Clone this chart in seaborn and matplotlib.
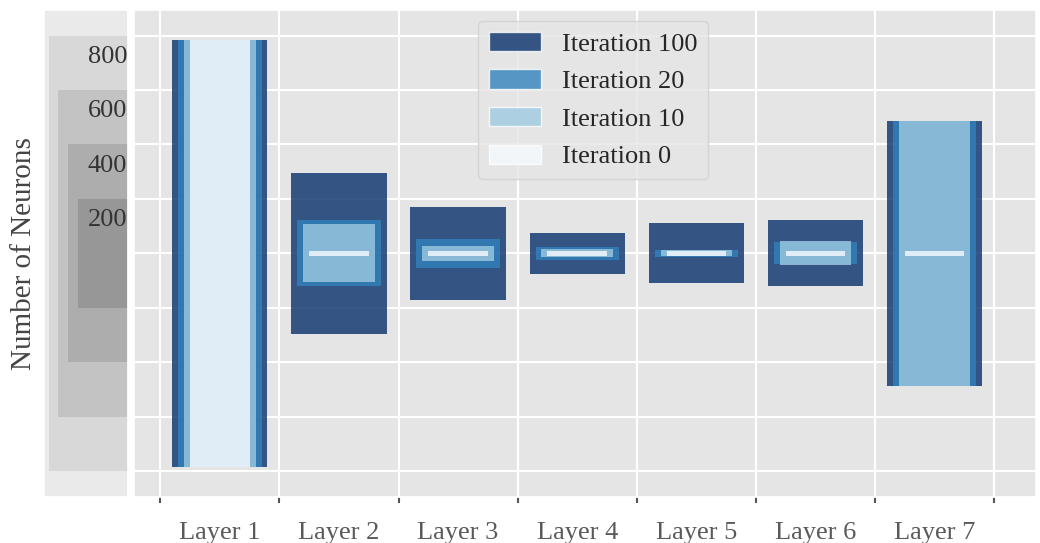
import numpy as np
import pandas as pd
import seaborn as sns
import matplotlib.pyplot as plt
from matplotlib.patches import Patch

# data
layers = ['Layer 1', 'Layer 2', 'Layer 3', 'Layer 4', 'Layer 5', 'Layer 6', 'Layer 7']
iterations = ['Iteration 100', 'Iteration 20', 'Iteration 10', 'Iteration 0']
neurons_it100 = [784, 295, 172, 75, 110, 121, 488]
neurons_it20 = [784, 121, 54, 25, 14, 40, 488]
neurons_it10 = [784, 106, 27, 15, 11, 44, 488]
neurons_it0 = [784, 10, 10, 10, 10, 10, 10]
scale_values = [800, 600, 400, 200]

colors = ['#08306b', '#3182bd', '#9ecae1', '#f7fbff']
widths = [0.8, 0.7, 0.6, 0.5]
scale_colors = ['#d8d8d8', '#c3c3c3', '#adadad', '#979797']
scale_left = [0.06, 0.167, 0.287, 0.406]

rows = []
for it, vals in zip(iterations, [neurons_it100, neurons_it20, neurons_it10, neurons_it0]):
    for lay, v in zip(layers, vals):
        rows.append({'layer': lay, 'iteration': it, 'neurons': v})
df = pd.DataFrame(rows)
df['half'] = df['neurons'] / 2

sns.set_theme(style="darkgrid", rc={'axes.facecolor': '#e5e5e5', 'grid.color': 'white',
                                    'grid.linewidth': 1.5})
plt.rcParams['font.family'] = ['Liberation Serif', 'DejaVu Serif']

fig = plt.figure(figsize=(10.4, 5.43), dpi=100)
ax = fig.add_axes([0.1291, 0.0853, 0.8670, 0.8963])
ax_l = fig.add_axes([0.0423, 0.0853, 0.0805, 0.8963])

# bars centred on zero: upper half and lower half
for it, c, w in zip(iterations, colors, widths):
    d = df[df['iteration'] == it]
    for sign in [1, -1]:
        sns.barplot(x=d['layer'], y=sign * d['half'], order=layers, color=c, width=w,
                    saturation=1, alpha=0.8, errorbar=None, linewidth=0, ax=ax)

ax.set_xlabel('')
ax.set_ylabel('')
ax.set_xlim(-0.718, 6.85)
ax.set_ylim(-447, 447)
ax.set_xticks(np.arange(-0.5, 7, 1))
ax.set_xticklabels([])
ax.set_xticks(range(len(layers)), minor=True)
ax.set_xticklabels(layers, minor=True, fontsize=19, color='#5a5a5a')
ax.tick_params(axis='x', which='major', bottom=True, length=4, width=1.5, color='#555555',
               direction='out')
ax.tick_params(axis='x', which='minor', bottom=True, length=0, pad=18)
ax.set_yticks(np.arange(-400, 401, 100))
ax.set_yticklabels([])
ax.tick_params(axis='y', length=0)
ax.grid(True, which='major', axis='both', color='white', lw=1.5)
ax.set_axisbelow(True)

handles = [Patch(facecolor=c, alpha=0.8, label=it) for it, c in zip(iterations, colors)]
leg = ax.legend(handles=handles, loc='upper center', bbox_to_anchor=(0.509, 0.977),
                borderaxespad=0, fontsize=19, frameon=True, facecolor='#e5e5e5',
                edgecolor='#d0d0d0', framealpha=0.8, handlelength=2.0, handleheight=0.75,
                labelspacing=0.52)

# scale panel on the left
ax_l.set_facecolor('#eaeaea')
ax_l.grid(False)
ax_l.set_xlim(0, 1)
ax_l.set_ylim(-447, 447)
for h, c, left in zip(scale_values, scale_colors, scale_left):
    ax_l.bar(left, h, width=1 - left, bottom=-h / 2, align='edge', color=c, linewidth=0)
    ax_l.text(0.995, h / 2 - 50, str(h), ha='right', va='baseline', fontsize=19, color='#333333')
ax_l.set_xticks([])
ax_l.set_yticks([])
ax_l.set_ylabel('Number of Neurons', fontsize=21, color='#444444', labelpad=5)

fig.savefig('out.png', dpi=100)
